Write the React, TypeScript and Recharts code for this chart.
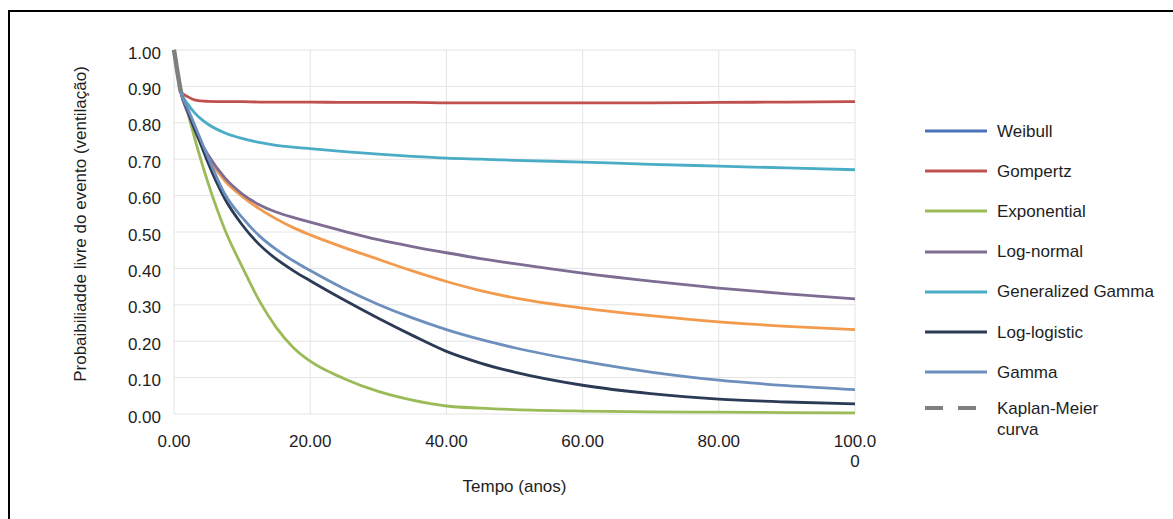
import React from 'react';
import { LineChart, Line, XAxis, YAxis, CartesianGrid, Legend, Label } from 'recharts';

const times = [0, 0.5, 1, 2, 3, 4, 5, 7.5, 10, 12.5, 15, 17.5, 20, 25, 30, 35, 40, 45, 50, 60, 70, 80, 90, 100];

const weibull = [1.0, 0.94, 0.885, 0.83, 0.78, 0.74, 0.705, 0.64, 0.598, 0.564, 0.536, 0.512, 0.492, 0.457, 0.425, 0.393, 0.364, 0.339, 0.319, 0.291, 0.27, 0.253, 0.241, 0.232];
const gompertz = [1.0, 0.94, 0.885, 0.872, 0.863, 0.86, 0.859, 0.858, 0.858, 0.857, 0.857, 0.857, 0.857, 0.856, 0.856, 0.856, 0.855, 0.855, 0.855, 0.855, 0.855, 0.856, 0.857, 0.858];
const exponential = [1.0, 0.94, 0.895, 0.83, 0.76, 0.695, 0.635, 0.505, 0.405, 0.312, 0.238, 0.183, 0.145, 0.097, 0.062, 0.038, 0.022, 0.016, 0.012, 0.008, 0.006, 0.005, 0.004, 0.003];
const logNormal = [1.0, 0.94, 0.885, 0.828, 0.782, 0.745, 0.712, 0.648, 0.605, 0.575, 0.555, 0.54, 0.527, 0.502, 0.479, 0.46, 0.443, 0.427, 0.413, 0.387, 0.365, 0.346, 0.33, 0.316];
const genGamma = [1.0, 0.94, 0.885, 0.852, 0.828, 0.81, 0.796, 0.772, 0.757, 0.746, 0.738, 0.733, 0.729, 0.721, 0.714, 0.708, 0.703, 0.7, 0.697, 0.692, 0.686, 0.681, 0.676, 0.671];
const logLogistic = [1.0, 0.94, 0.885, 0.835, 0.785, 0.738, 0.69, 0.59, 0.52, 0.466, 0.426, 0.394, 0.366, 0.313, 0.263, 0.216, 0.172, 0.14, 0.115, 0.079, 0.056, 0.041, 0.033, 0.028];
const gamma = [1.0, 0.94, 0.885, 0.84, 0.795, 0.75, 0.705, 0.603, 0.54, 0.49, 0.452, 0.421, 0.394, 0.344, 0.301, 0.264, 0.232, 0.205, 0.182, 0.145, 0.115, 0.093, 0.078, 0.067];
const kaplanMeier: (number | null)[] = [1.0, 0.94, 0.885, null, null, null, null, null, null, null, null, null, null, null, null, null, null, null, null, null, null, null, null, null];

const xTicks = [0, 20, 40, 60, 80, 100];
const xTickLines = [['0.00'], ['20.00'], ['40.00'], ['60.00'], ['80.00'], ['100.0', '0']];
const yTicks = [0, 0.1, 0.2, 0.3, 0.4, 0.5, 0.6, 0.7, 0.8, 0.9, 1.0];
const yTickLabels = ['0.00', '0.10', '0.20', '0.30', '0.40', '0.50', '0.60', '0.70', '0.80', '0.90', '1.00'];

const xLabel = 'Tempo (anos)';
const yLabel = 'Probaibiliadde livre do evento (ventilação)';

const legendNames = ['Weibull', 'Gompertz', 'Exponential', 'Log-normal', 'Generalized Gamma', 'Log-logistic', 'Gamma', 'Kaplan-Meier curva'];
const legendColors = ['#4a72b8', '#c0504d', '#9bbb59', '#7f6c93', '#4bacc6', '#2b3a55', '#6d8fbd', '#7f7f7f'];

const seriesKeys = ['weibull', 'gompertz', 'exponential', 'logNormal', 'genGamma', 'logLogistic', 'gamma', 'km'];
const seriesColors = ['#f39a4c', '#c0504d', '#9bbb59', '#7f6c93', '#4bacc6', '#2b3a55', '#6d8fbd', '#7f7f7f'];

const data = times.map((t, i) => ({
  t,
  weibull: weibull[i],
  gompertz: gompertz[i],
  exponential: exponential[i],
  logNormal: logNormal[i],
  genGamma: genGamma[i],
  logLogistic: logLogistic[i],
  gamma: gamma[i],
  km: kaplanMeier[i],
}));

const FONT = '"Liberation Sans", Arial, sans-serif';
const TEXT = '#1e1e1e';

const renderXTick = (props: any) => {
  const { x, y, payload } = props;
  const idx = xTicks.indexOf(payload.value);
  const lines = idx >= 0 ? xTickLines[idx] : [String(payload.value)];
  return (
    <g>
      {lines.map((ln, k) => (
        <text key={k} x={x} y={y + 27 + k * 20} textAnchor="middle" dominantBaseline="central" fontSize={17} fontFamily={FONT} fill={TEXT}>
          {ln}
        </text>
      ))}
    </g>
  );
};

const renderYTick = (props: any) => {
  const { x, y, payload } = props;
  const idx = yTicks.findIndex((v) => Math.abs(v - payload.value) < 1e-6);
  return (
    <text x={x - 13} y={y + 3} textAnchor="end" dominantBaseline="central" fontSize={17} fontFamily={FONT} fill={TEXT}>
      {idx >= 0 ? yTickLabels[idx] : ''}
    </text>
  );
};

const renderXLabel = (props: any) => {
  const vb = props.viewBox || { x: 0, y: 0, width: 0, height: 0 };
  return (
    <text x={vb.x + vb.width / 2} y={vb.y + 72} textAnchor="middle" dominantBaseline="central" fontSize={17} fontFamily={FONT} fill={TEXT}>
      {xLabel}
    </text>
  );
};

const renderYLabel = (props: any) => {
  const vb = props.viewBox || { x: 0, y: 0, width: 0, height: 0 };
  const cx = vb.x + 6;
  const cy = vb.y + vb.height / 2 - 8;
  return (
    <text x={cx} y={cy} transform={`rotate(-90 ${cx} ${cy})`} textAnchor="middle" dominantBaseline="central" fontSize={17} fontFamily={FONT} fill={TEXT}>
      {yLabel}
    </text>
  );
};

const renderLegend = () => (
  <div style={{ position: 'relative', width: 245, height: 340, fontFamily: FONT, fontSize: 17, color: TEXT }}>
    {legendNames.map((name, i) => {
      const isKM = i === legendNames.length - 1;
      const center = isKM ? 6 * 40.2 + 36 : i * 40.2;
      const words = isKM ? ['Kaplan-Meier', 'curva'] : [name];
      return (
        <div key={name} style={{ position: 'absolute', left: 0, top: center }}>
          <svg width={64} height={6} style={{ position: 'absolute', left: 0, top: -3 }}>
            <line x1={0} y1={3} x2={62} y2={3} stroke={legendColors[i]} strokeWidth={isKM ? 4 : 3} strokeDasharray={isKM ? '18 15' : undefined} />
          </svg>
          <div style={{ position: 'absolute', left: 72, top: -10, whiteSpace: 'nowrap', lineHeight: '21px', marginTop: -0.5 }}>
            {words.map((w) => (
              <div key={w}>{w}</div>
            ))}
          </div>
        </div>
      );
    })}
  </div>
);

export default function App() {
  return (
    <div style={{ position: 'relative', width: 1173, height: 519, overflow: 'hidden', background: '#fff' }}>
      <style>{`body{margin:0;overflow:hidden;}`}</style>
      <div style={{ position: 'absolute', left: 8, top: 10, right: -10, bottom: -10, borderTop: '2px solid #000', borderLeft: '2px solid #000' }} />
      <div style={{ position: 'absolute', left: 0, top: 0 }}>
        <LineChart width={1173} height={519} data={data} margin={{ top: 50, right: 318, bottom: 45, left: 74 }}>
          <CartesianGrid stroke="#e4e4e4" strokeWidth={1} />
          <XAxis
            dataKey="t"
            type="number"
            domain={[0, 100]}
            ticks={xTicks}
            interval={0}
            height={60}
            tickSize={0}
            tickMargin={0}
            axisLine={false}
            tickLine={false}
            tick={renderXTick}
            label={<Label content={renderXLabel} />}
          />
          <YAxis
            type="number"
            domain={[0, 1]}
            ticks={yTicks}
            interval={0}
            width={100}
            tickSize={0}
            tickMargin={0}
            axisLine={false}
            tickLine={false}
            tick={renderYTick}
            label={<Label content={renderYLabel} />}
          />
          <Legend
            layout="horizontal"
            verticalAlign="middle"
            align="center"
            content={renderLegend}
            wrapperStyle={{ left: 925, top: 131, width: 245, height: 340 }}
          />
          {seriesKeys.map((k, i) => (
            <Line
              key={k}
              type="monotone"
              dataKey={k}
              name={legendNames[i]}
              stroke={seriesColors[i]}
              strokeWidth={k === 'km' ? 4.5 : 2.8}
              dot={false}
              activeDot={false}
              connectNulls={false}
              isAnimationActive={false}
            />
          ))}
        </LineChart>
      </div>
    </div>
  );
}
